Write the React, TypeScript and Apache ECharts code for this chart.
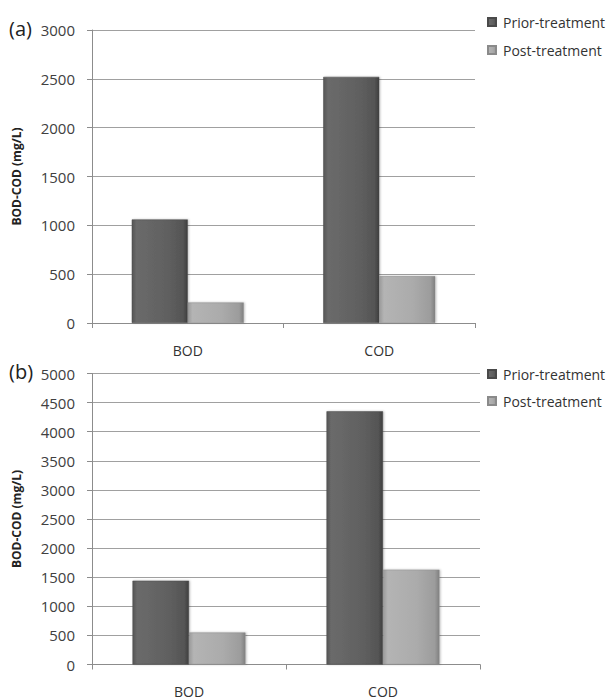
import React, { useEffect, useRef } from "react";
import * as echarts from "echarts";

const categories = ["BOD", "COD"];
const seriesNames = ["Prior-treatment", "Post-treatment"];
const priorA = [1060, 2520];
const postA = [210, 480];
const priorB = [1440, 4350];
const postB = [550, 1630];
const yTicksA = { min: 0, max: 3000, interval: 500 };
const yTicksB = { min: 0, max: 5000, interval: 500 };

const FONT = "'Open Sans', 'DejaVu Sans', sans-serif";

const priorFill = new echarts.graphic.LinearGradient(0, 0, 1, 0, [
  { offset: 0, color: "#555555" },
  { offset: 0.08, color: "#6a6a6a" },
  { offset: 0.6, color: "#616161" },
  { offset: 0.92, color: "#555555" },
  { offset: 1, color: "#3e3e3e" },
]);
const postFill = new echarts.graphic.LinearGradient(0, 0, 1, 0, [
  { offset: 0, color: "#9a9a9a" },
  { offset: 0.08, color: "#b4b4b4" },
  { offset: 0.6, color: "#ababab" },
  { offset: 0.92, color: "#9c9c9c" },
  { offset: 1, color: "#808080" },
]);

export default function App() {
  const ref = useRef<HTMLDivElement>(null);
  useEffect(() => {
    if (!ref.current) return;
    const chart = echarts.init(ref.current, null, { renderer: "svg" });
    const xAxisBase = (gridIndex: number, margin: number) => ({
      type: "category",
      gridIndex,
      data: categories,
      boundaryGap: true,
      axisLine: { lineStyle: { color: "#8c8c8c", width: 1 } },
      axisTick: { show: true, length: 5, lineStyle: { color: "#8c8c8c" } },
      axisLabel: { margin, fontFamily: FONT, fontSize: 14, color: "#333333" },
    });
    const yAxisBase = (gridIndex: number, t: { min: number; max: number; interval: number }) => ({
      type: "value",
      gridIndex,
      min: t.min,
      max: t.max,
      interval: t.interval,
      name: "BOD-COD (mg/L)",
      nameLocation: "middle",
      nameGap: 70,
      nameTextStyle: { fontFamily: FONT, fontSize: 12, fontWeight: "bold", color: "#222222" },
      axisLine: { show: true, lineStyle: { color: "#8c8c8c", width: 1 } },
      axisTick: { show: true, length: 5, lineStyle: { color: "#8c8c8c" } },
      axisLabel: {
        margin: 17,
        fontFamily: FONT,
        fontSize: 15,
        color: "#404040",
        formatter: (v: number) => String(v),
      },
      splitLine: { show: true, lineStyle: { color: "#a0a0a0", width: 1 } },
    });
    const barStyle = (fill: any, border: string) => ({
      color: fill,
      borderColor: border,
      borderWidth: 0.5,
      shadowColor: "rgba(0,0,0,0.25)",
      shadowBlur: 2,
      shadowOffsetX: 1,
    });
    const legendBase = (top: number, gap: number) => ({
      data: seriesNames,
      orient: "vertical",
      left: 482,
      top,
      itemGap: gap,
      itemWidth: 8,
      itemHeight: 8,
      icon: "rect",
      textStyle: { fontFamily: FONT, fontSize: 14, color: "#333333", padding: [0, 0, 0, 2] },
    });
    chart.setOption({
      animation: false,
      backgroundColor: "#ffffff",
      grid: [
        { left: 92, right: 134, top: 30, height: 293 },
        { left: 92, right: 129, top: 373.5, height: 291 },
      ],
      legend: [legendBase(10, 14), legendBase(362, 13)],
      xAxis: [xAxisBase(0, 20), xAxisBase(1, 20)],
      yAxis: [yAxisBase(0, yTicksA), yAxisBase(1, yTicksB)],
      series: [
        { name: seriesNames[0], type: "bar", xAxisIndex: 0, yAxisIndex: 0, data: priorA, barWidth: 56, barGap: "0%", itemStyle: barStyle(priorFill, "#4a4a4a") },
        { name: seriesNames[1], type: "bar", xAxisIndex: 0, yAxisIndex: 0, data: postA, barWidth: 56, barGap: "0%", itemStyle: barStyle(postFill, "#8a8a8a") },
        { name: seriesNames[0], type: "bar", xAxisIndex: 1, yAxisIndex: 1, data: priorB, barWidth: 56.5, barGap: "0%", itemStyle: barStyle(priorFill, "#4a4a4a") },
        { name: seriesNames[1], type: "bar", xAxisIndex: 1, yAxisIndex: 1, data: postB, barWidth: 56.5, barGap: "0%", itemStyle: barStyle(postFill, "#8a8a8a") },
      ],
      graphic: [
        { type: "text", left: 9, top: 18, style: { text: "(a)", font: `20px ${FONT}`, fill: "#222222" } },
        { type: "text", left: 9, top: 361, style: { text: "(b)", font: `20px ${FONT}`, fill: "#222222" } },
      ],
    });
    return () => chart.dispose();
  }, []);
  return (
    <div
      ref={ref}
      style={{ position: "fixed", left: 0, top: 0, width: 609, height: 700, background: "#fff" }}
    />
  );
}
